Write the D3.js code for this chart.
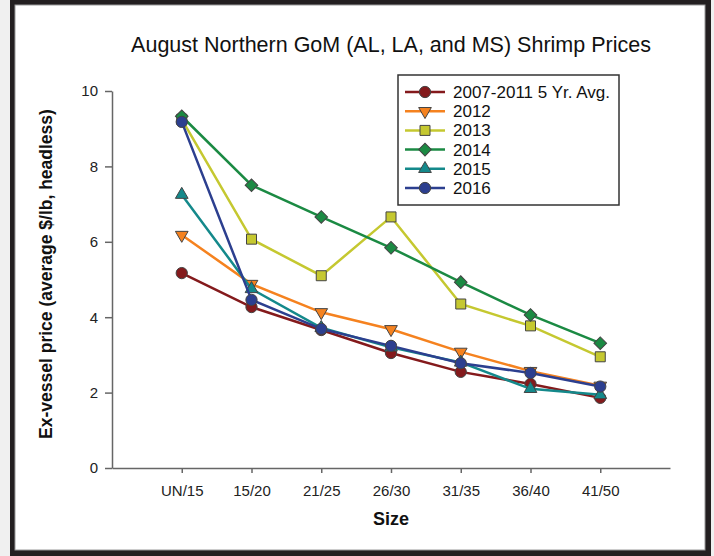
<!DOCTYPE html>
<html>
<head>
<meta charset="utf-8">
<script src="https://cdn.jsdelivr.net/npm/d3@7"></script>
<style>
  body { margin: 0; background: #f0f0f0; }
  svg { display: block; font-family: 'Liberation Sans', Arial, sans-serif; }
</style>
</head>
<body>
<div id="chart"></div>
<script>
// Data
var sizes = ['UN/15', '15/20', '21/25', '26/30', '31/35', '36/40', '41/50']
var seriesNames = ['2007-2011 5 Yr. Avg.', '2012', '2013', '2014', '2015', '2016']
var avg5yr = [5.17, 4.27, 3.66, 3.05, 2.55, 2.23, 1.86]
var y2012 = [6.18, 4.88, 4.13, 3.68, 3.08, 2.57, 2.18]
var y2013 = [9.25, 6.07, 5.1, 6.66, 4.35, 3.77, 2.95]
var y2014 = [9.33, 7.5, 6.66, 5.84, 4.93, 4.06, 3.31]
var y2015 = [7.25, 4.75, 3.72, 3.2, 2.8, 2.1, 1.94]
var y2016 = [9.18, 4.46, 3.69, 3.24, 2.78, 2.52, 2.16]
var yTicks = [0, 2, 4, 6, 8, 10]

var colors = ['#841a1c', '#f5821f', '#c5c830', '#1b8a43', '#14898b', '#2c3f8f']
var markers = ['circle', 'triangleDown', 'square', 'diamond', 'triangle', 'circle']

var allValues = [avg5yr, y2012, y2013, y2014, y2015, y2016]
var series = seriesNames.map(function(name, i) {
  return {
    name: name,
    color: colors[i],
    marker: markers[i],
    values: allValues[i].map(function(v, j) {
      return { size: sizes[j], value: v }
    })
  }
})

var width = 714
var height = 556

var svg = d3
  .select('#chart')
  .append('svg')
  .attr('width', width)
  .attr('height', height)

// black frame round the white page
svg
  .append('rect')
  .attr('x', 10)
  .attr('y', 0)
  .attr('width', 701)
  .attr('height', 556)
  .attr('fill', '#231f20')
svg
  .append('rect')
  .attr('x', 15)
  .attr('y', 5)
  .attr('width', 690)
  .attr('height', 545)
  .attr('fill', '#fff')
  .attr('stroke', '#999')
  .attr('stroke-width', 1)

// scales
var xPositionScale = d3
  .scalePoint()
  .domain(sizes)
  .range([112, 670])
  .padding(1)
var yPositionScale = d3
  .scaleLinear()
  .domain([0, 10])
  .range([468, 91])

// marker shapes
function markerPath(type) {
  if (type === 'circle') return d3.symbol(d3.symbolCircle, 100)()
  if (type === 'square') return d3.symbol(d3.symbolSquare, 100)()
  if (type === 'diamond') return d3.symbol(d3.symbolSquare, 80)()
  return d3.symbol(d3.symbolTriangle, 70)()
}
function markerRotate(type) {
  if (type === 'diamond') return 45
  if (type === 'triangleDown') return 180
  return 0
}

// title
svg
  .append('text')
  .text('August Northern GoM (AL, LA, and MS) Shrimp Prices')
  .attr('x', 391)
  .attr('y', 52)
  .attr('text-anchor', 'middle')
  .attr('font-size', 21.5)
  .attr('fill', '#111')

// axes
var xAxis = d3
  .axisBottom(xPositionScale)
  .tickSize(5)
  .tickSizeOuter(0)
  .tickPadding(12)
svg
  .append('g')
  .attr('class', 'axis x-axis')
  .attr('transform', 'translate(0, 468)')
  .call(xAxis)

var yAxis = d3
  .axisLeft(yPositionScale)
  .tickValues(yTicks)
  .tickSize(7)
  .tickSizeOuter(0)
  .tickPadding(7)
svg
  .append('g')
  .attr('class', 'axis y-axis')
  .attr('transform', 'translate(112, 0)')
  .call(yAxis)

svg.selectAll('.axis path, .axis line')
  .attr('stroke', '#666')
  .attr('stroke-width', 1.5)
svg.selectAll('.axis text')
  .attr('font-size', 15)
  .attr('font-family', "'Liberation Sans', Arial, sans-serif")
  .attr('fill', '#222')

// axis titles
svg
  .append('text')
  .text('Size')
  .attr('x', 391)
  .attr('y', 525)
  .attr('text-anchor', 'middle')
  .attr('font-size', 18)
  .attr('font-weight', 'bold')
  .attr('fill', '#111')

svg
  .append('text')
  .text('Ex-vessel price (average $/lb, headless)')
  .attr('transform', 'translate(52, 274) rotate(-90)')
  .attr('text-anchor', 'middle')
  .attr('font-size', 17.5)
  .attr('font-weight', 'bold')
  .attr('fill', '#111')

// lines and markers, one series at a time
var line = d3
  .line()
  .x(d => xPositionScale(d.size))
  .y(d => yPositionScale(d.value))

series.forEach(function(s) {
  var g = svg.append('g')
  g.append('path')
    .datum(s.values)
    .attr('d', line)
    .attr('fill', 'none')
    .attr('stroke', s.color)
    .attr('stroke-width', 2.5)

  g.selectAll('.marker')
    .data(s.values)
    .enter()
    .append('path')
    .attr('class', 'marker')
    .attr('d', markerPath(s.marker))
    .attr('transform', d => `translate(${xPositionScale(d.size)}, ${yPositionScale(d.value)}) rotate(${markerRotate(s.marker)})`)
    .attr('fill', s.color)
    .attr('stroke', '#444')
    .attr('stroke-width', 1)
})

// legend
var legend = svg.append('g').attr('transform', 'translate(398, 75)')
legend
  .append('rect')
  .attr('width', 221)
  .attr('height', 130)
  .attr('fill', '#fff')
  .attr('stroke', '#333')
  .attr('stroke-width', 1.5)

legend
  .selectAll('.legend-item')
  .data(series)
  .enter()
  .append('g')
  .attr('class', 'legend-item')
  .attr('transform', (d, i) => `translate(0, ${17 + i * 19.2})`)
  .each(function(d) {
    var item = d3.select(this)
    item
      .append('line')
      .attr('x1', 7)
      .attr('x2', 47)
      .attr('stroke', d.color)
      .attr('stroke-width', 2.5)
    item
      .append('path')
      .attr('d', markerPath(d.marker))
      .attr('transform', `translate(27, 0) rotate(${markerRotate(d.marker)})`)
      .attr('fill', d.color)
      .attr('stroke', '#444')
      .attr('stroke-width', 1)
    item
      .append('text')
      .text(d.name)
      .attr('x', 55)
      .attr('dy', '0.35em')
      .attr('font-size', 17)
      .attr('fill', '#111')
  })
</script>
</body>
</html>
